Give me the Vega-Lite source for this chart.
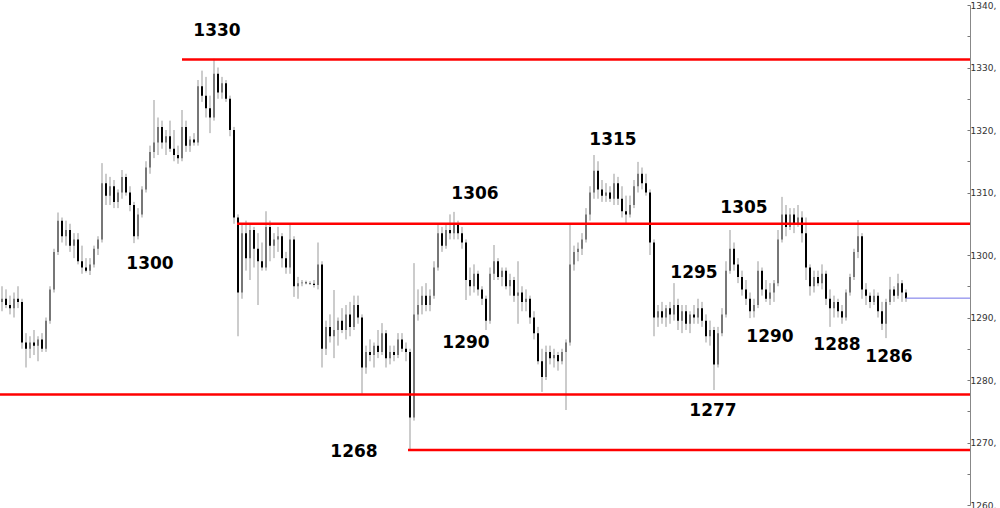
{
  "$schema": "https://vega.github.io/schema/vega-lite/v6.json",
  "width": 970,
  "height": 500,
  "autosize": "none",
  "padding": {"left": 0, "top": 5, "right": 30, "bottom": 3},
  "background": "white",
  "config": {
    "view": {"stroke": null},
    "axisY": {
      "title": null, "grid": false,
      "labelFont": "DejaVu Sans", "labelFontSize": 9, "labelColor": "#333",
      "labelAlign": "left", "labelBaseline": "middle", "labelFlush": false, "labelOverlap": false,
      "labelPadding": 3, "tickSize": -3, "tickColor": "#777", "domainColor": "#888"
    }
  },
  "datasets": {
    "bars": [
      {"i":0,"o":1292.5,"h":1295,"l":1291,"c":1293},
      {"i":1,"o":1293,"h":1294.5,"l":1291.5,"c":1292},
      {"i":2,"o":1292,"h":1293.5,"l":1290.5,"c":1291.5},
      {"i":3,"o":1291.5,"h":1294,"l":1290,"c":1293},
      {"i":4,"o":1293,"h":1295,"l":1291.5,"c":1292.5},
      {"i":5,"o":1292.5,"h":1293,"l":1285,"c":1286},
      {"i":6,"o":1286,"h":1287.5,"l":1282,"c":1285},
      {"i":7,"o":1285,"h":1287,"l":1283.5,"c":1286},
      {"i":8,"o":1286,"h":1288,"l":1284,"c":1285.5},
      {"i":9,"o":1285.5,"h":1287,"l":1283,"c":1286.5},
      {"i":10,"o":1286.5,"h":1287.5,"l":1284.5,"c":1285},
      {"i":11,"o":1285,"h":1290,"l":1284.5,"c":1289.5},
      {"i":12,"o":1289.5,"h":1295,"l":1289,"c":1294.5},
      {"i":13,"o":1294.5,"h":1301,"l":1294,"c":1300.5},
      {"i":14,"o":1300.5,"h":1306.8,"l":1300,"c":1305.5},
      {"i":15,"o":1305.5,"h":1306,"l":1302,"c":1303},
      {"i":16,"o":1303,"h":1305.5,"l":1301.5,"c":1304},
      {"i":17,"o":1304,"h":1305,"l":1300.5,"c":1301.5},
      {"i":18,"o":1301.5,"h":1303.5,"l":1299.5,"c":1302.5},
      {"i":19,"o":1302.5,"h":1303.5,"l":1298.5,"c":1299},
      {"i":20,"o":1299,"h":1301.5,"l":1297,"c":1298},
      {"i":21,"o":1298,"h":1299.5,"l":1297.2,"c":1297.5},
      {"i":22,"o":1297.5,"h":1299.5,"l":1296.8,"c":1298.5},
      {"i":23,"o":1298.5,"h":1301.5,"l":1298,"c":1301},
      {"i":24,"o":1301,"h":1303,"l":1300,"c":1302.5},
      {"i":25,"o":1302.5,"h":1314.7,"l":1302,"c":1311.5},
      {"i":26,"o":1311.5,"h":1313,"l":1308,"c":1309.5},
      {"i":27,"o":1309.5,"h":1312.5,"l":1308,"c":1311},
      {"i":28,"o":1311,"h":1312,"l":1307.5,"c":1308.5},
      {"i":29,"o":1308.5,"h":1310.5,"l":1307.5,"c":1310},
      {"i":30,"o":1310,"h":1313.6,"l":1309,"c":1312.5},
      {"i":31,"o":1312.5,"h":1313,"l":1309.5,"c":1310},
      {"i":32,"o":1310,"h":1311,"l":1307,"c":1308},
      {"i":33,"o":1308,"h":1308.5,"l":1301.9,"c":1303},
      {"i":34,"o":1303,"h":1307.5,"l":1302.5,"c":1306.5},
      {"i":35,"o":1306.5,"h":1311,"l":1306,"c":1310.5},
      {"i":36,"o":1310.5,"h":1315,"l":1310,"c":1314},
      {"i":37,"o":1314,"h":1317.5,"l":1313,"c":1316.5},
      {"i":38,"o":1316.5,"h":1324.8,"l":1315.5,"c":1318},
      {"i":39,"o":1318,"h":1322,"l":1316,"c":1320.5},
      {"i":40,"o":1320.5,"h":1321.5,"l":1317,"c":1318},
      {"i":41,"o":1318,"h":1320,"l":1316,"c":1319},
      {"i":42,"o":1319,"h":1321.5,"l":1316.5,"c":1317},
      {"i":43,"o":1317,"h":1320,"l":1315,"c":1316},
      {"i":44,"o":1316,"h":1317.5,"l":1314.6,"c":1315.5},
      {"i":45,"o":1315.5,"h":1323.2,"l":1315,"c":1320.5},
      {"i":46,"o":1320.5,"h":1321.5,"l":1316.5,"c":1317.5},
      {"i":47,"o":1317.5,"h":1319,"l":1316.5,"c":1318.5},
      {"i":48,"o":1318.5,"h":1319.5,"l":1317.5,"c":1318},
      {"i":49,"o":1318,"h":1328,"l":1317.5,"c":1327},
      {"i":50,"o":1327,"h":1329.5,"l":1324.5,"c":1325.5},
      {"i":51,"o":1325.5,"h":1328.5,"l":1322,"c":1323.5},
      {"i":52,"o":1323.5,"h":1325.5,"l":1319.5,"c":1322},
      {"i":53,"o":1322,"h":1331.4,"l":1321.5,"c":1329},
      {"i":54,"o":1329,"h":1330,"l":1325,"c":1326},
      {"i":55,"o":1326,"h":1328.5,"l":1325,"c":1327.5},
      {"i":56,"o":1327.5,"h":1328,"l":1324.5,"c":1325},
      {"i":57,"o":1325,"h":1325.5,"l":1319,"c":1320},
      {"i":58,"o":1320,"h":1320.5,"l":1305,"c":1306},
      {"i":59,"o":1306,"h":1306.5,"l":1287,"c":1294},
      {"i":60,"o":1294,"h":1305,"l":1293,"c":1303.5},
      {"i":61,"o":1303.5,"h":1305.5,"l":1297.5,"c":1299.5},
      {"i":62,"o":1299.5,"h":1305,"l":1296,"c":1304},
      {"i":63,"o":1304,"h":1304.5,"l":1298,"c":1301},
      {"i":64,"o":1301,"h":1303.5,"l":1292,"c":1299},
      {"i":65,"o":1299,"h":1302,"l":1297.5,"c":1298},
      {"i":66,"o":1298,"h":1307,"l":1297.5,"c":1304.5},
      {"i":67,"o":1304.5,"h":1305.5,"l":1299,"c":1301.5},
      {"i":68,"o":1301.5,"h":1303.5,"l":1299.5,"c":1302.5},
      {"i":69,"o":1302.5,"h":1304.5,"l":1300.5,"c":1303},
      {"i":70,"o":1303,"h":1303.5,"l":1298,"c":1299.5},
      {"i":71,"o":1299.5,"h":1300.5,"l":1297,"c":1298},
      {"i":72,"o":1298,"h":1305,"l":1297,"c":1302.5},
      {"i":73,"o":1302.5,"h":1303,"l":1293.3,"c":1295},
      {"i":74,"o":1295,"h":1296.5,"l":1293,"c":1295.5},
      {"i":75,"o":1295.5,"h":1296,"l":1295,"c":1295.6},
      {"i":76,"o":1295.6,"h":1295.9,"l":1295.3,"c":1295.5},
      {"i":77,"o":1295.5,"h":1295.8,"l":1295.2,"c":1295.4},
      {"i":78,"o":1295.4,"h":1296,"l":1294.8,"c":1295.2},
      {"i":79,"o":1295.2,"h":1302,"l":1294.5,"c":1298.5},
      {"i":80,"o":1298.5,"h":1299,"l":1282,"c":1285},
      {"i":81,"o":1285,"h":1289.5,"l":1284,"c":1288.5},
      {"i":82,"o":1288.5,"h":1290.5,"l":1286,"c":1287},
      {"i":83,"o":1287,"h":1294.4,"l":1283.5,"c":1288},
      {"i":84,"o":1288,"h":1290,"l":1285.5,"c":1289.5},
      {"i":85,"o":1289.5,"h":1291.5,"l":1287.5,"c":1288},
      {"i":86,"o":1288,"h":1292,"l":1286.5,"c":1290.5},
      {"i":87,"o":1290.5,"h":1292.5,"l":1287,"c":1288.5},
      {"i":88,"o":1288.5,"h":1293.5,"l":1288,"c":1292},
      {"i":89,"o":1292,"h":1293.5,"l":1289,"c":1290},
      {"i":90,"o":1290,"h":1290.5,"l":1277.8,"c":1282},
      {"i":91,"o":1282,"h":1285.5,"l":1281,"c":1284.5},
      {"i":92,"o":1284.5,"h":1286.5,"l":1283,"c":1284},
      {"i":93,"o":1284,"h":1286,"l":1282,"c":1285.5},
      {"i":94,"o":1285.5,"h":1288,"l":1283.5,"c":1284.5},
      {"i":95,"o":1284.5,"h":1289.1,"l":1284,"c":1287.5},
      {"i":96,"o":1287.5,"h":1288,"l":1282,"c":1283.5},
      {"i":97,"o":1283.5,"h":1285.5,"l":1282.5,"c":1284.5},
      {"i":98,"o":1284.5,"h":1285.5,"l":1283,"c":1284},
      {"i":99,"o":1284,"h":1287.5,"l":1283.5,"c":1286.5},
      {"i":100,"o":1286.5,"h":1287.5,"l":1284.5,"c":1285},
      {"i":101,"o":1285,"h":1286,"l":1283,"c":1284.5},
      {"i":102,"o":1284.5,"h":1285,"l":1268.9,"c":1274},
      {"i":103,"o":1274,"h":1298.7,"l":1273.5,"c":1290.5},
      {"i":104,"o":1290.5,"h":1294.5,"l":1289.5,"c":1292},
      {"i":105,"o":1292,"h":1295,"l":1290.5,"c":1293.5},
      {"i":106,"o":1293.5,"h":1295.5,"l":1291,"c":1292},
      {"i":107,"o":1292,"h":1294.5,"l":1291,"c":1293.5},
      {"i":108,"o":1293.5,"h":1299,"l":1293,"c":1298},
      {"i":109,"o":1298,"h":1304.8,"l":1297.5,"c":1303.5},
      {"i":110,"o":1303.5,"h":1304.5,"l":1300.5,"c":1301.5},
      {"i":111,"o":1301.5,"h":1305,"l":1301,"c":1304},
      {"i":112,"o":1304,"h":1306.5,"l":1302.5,"c":1303.5},
      {"i":113,"o":1303.5,"h":1306.9,"l":1302.5,"c":1305},
      {"i":114,"o":1305,"h":1305.5,"l":1302.5,"c":1303.5},
      {"i":115,"o":1303.5,"h":1304.5,"l":1301,"c":1302},
      {"i":116,"o":1302,"h":1302.5,"l":1292.8,"c":1296},
      {"i":117,"o":1296,"h":1298,"l":1293.5,"c":1295},
      {"i":118,"o":1295,"h":1298.5,"l":1294,"c":1297},
      {"i":119,"o":1297,"h":1297.5,"l":1293.5,"c":1294.5},
      {"i":120,"o":1294.5,"h":1295,"l":1292,"c":1293},
      {"i":121,"o":1293,"h":1293.5,"l":1288,"c":1289.5},
      {"i":122,"o":1289.5,"h":1298,"l":1289,"c":1297},
      {"i":123,"o":1297,"h":1301.6,"l":1296,"c":1299},
      {"i":124,"o":1299,"h":1299.5,"l":1296,"c":1296.5},
      {"i":125,"o":1296.5,"h":1298,"l":1295,"c":1297.5},
      {"i":126,"o":1297.5,"h":1298,"l":1294.5,"c":1295},
      {"i":127,"o":1295,"h":1297,"l":1293.5,"c":1296},
      {"i":128,"o":1296,"h":1296.5,"l":1292.5,"c":1293.5},
      {"i":129,"o":1293.5,"h":1299,"l":1289,"c":1294},
      {"i":130,"o":1294,"h":1295,"l":1291,"c":1292.5},
      {"i":131,"o":1292.5,"h":1294.5,"l":1291,"c":1293},
      {"i":132,"o":1293,"h":1293.5,"l":1289,"c":1290},
      {"i":133,"o":1290,"h":1291,"l":1286.5,"c":1287.5},
      {"i":134,"o":1287.5,"h":1288.5,"l":1282.5,"c":1283},
      {"i":135,"o":1283,"h":1285,"l":1278.1,"c":1280.5},
      {"i":136,"o":1280.5,"h":1285.5,"l":1280,"c":1284.5},
      {"i":137,"o":1284.5,"h":1285.5,"l":1282.5,"c":1283.5},
      {"i":138,"o":1283.5,"h":1285,"l":1282,"c":1284},
      {"i":139,"o":1284,"h":1284.5,"l":1281.5,"c":1283},
      {"i":140,"o":1283,"h":1285,"l":1282.5,"c":1284.5},
      {"i":141,"o":1284.5,"h":1286.5,"l":1275.2,"c":1286},
      {"i":142,"o":1286,"h":1305.1,"l":1285.5,"c":1298.5},
      {"i":143,"o":1298.5,"h":1301.5,"l":1297.5,"c":1300.5},
      {"i":144,"o":1300.5,"h":1302,"l":1299,"c":1301},
      {"i":145,"o":1301,"h":1303.5,"l":1300,"c":1302.5},
      {"i":146,"o":1302.5,"h":1307.5,"l":1302,"c":1306.5},
      {"i":147,"o":1306.5,"h":1311,"l":1305.5,"c":1310},
      {"i":148,"o":1310,"h":1316,"l":1309,"c":1313.5},
      {"i":149,"o":1313.5,"h":1315,"l":1309,"c":1310.5},
      {"i":150,"o":1310.5,"h":1312,"l":1308.5,"c":1309.5},
      {"i":151,"o":1309.5,"h":1311.5,"l":1308.5,"c":1310},
      {"i":152,"o":1310,"h":1311,"l":1308.5,"c":1309},
      {"i":153,"o":1309,"h":1313,"l":1308,"c":1311.5},
      {"i":154,"o":1311.5,"h":1312.5,"l":1308,"c":1309},
      {"i":155,"o":1309,"h":1311,"l":1306,"c":1307},
      {"i":156,"o":1307,"h":1309.5,"l":1305.1,"c":1306.5},
      {"i":157,"o":1306.5,"h":1309.5,"l":1306,"c":1308},
      {"i":158,"o":1308,"h":1312,"l":1307.5,"c":1311},
      {"i":159,"o":1311,"h":1314.9,"l":1310,"c":1313},
      {"i":160,"o":1313,"h":1314,"l":1310.5,"c":1311.5},
      {"i":161,"o":1311.5,"h":1313,"l":1309.5,"c":1310},
      {"i":162,"o":1310,"h":1310.5,"l":1300,"c":1302},
      {"i":163,"o":1302,"h":1302.5,"l":1287,"c":1290},
      {"i":164,"o":1290,"h":1292,"l":1288.5,"c":1291},
      {"i":165,"o":1291,"h":1292.5,"l":1289,"c":1290},
      {"i":166,"o":1290,"h":1292,"l":1288.5,"c":1291.5},
      {"i":167,"o":1291.5,"h":1292.5,"l":1289,"c":1290.5},
      {"i":168,"o":1290.5,"h":1295.5,"l":1289.5,"c":1292},
      {"i":169,"o":1292,"h":1293,"l":1288,"c":1289.5},
      {"i":170,"o":1289.5,"h":1292,"l":1287.5,"c":1291},
      {"i":171,"o":1291,"h":1292,"l":1288,"c":1289},
      {"i":172,"o":1289,"h":1291,"l":1287.5,"c":1290.5},
      {"i":173,"o":1290.5,"h":1292,"l":1289,"c":1290},
      {"i":174,"o":1290,"h":1293,"l":1289,"c":1291.5},
      {"i":175,"o":1291.5,"h":1292.5,"l":1288.5,"c":1289.5},
      {"i":176,"o":1289.5,"h":1290.5,"l":1286,"c":1287},
      {"i":177,"o":1287,"h":1289.5,"l":1285.5,"c":1288},
      {"i":178,"o":1288,"h":1288.5,"l":1278.4,"c":1282.5},
      {"i":179,"o":1282.5,"h":1288.5,"l":1282,"c":1287.5},
      {"i":180,"o":1287.5,"h":1291.5,"l":1287,"c":1290.5},
      {"i":181,"o":1290.5,"h":1299,"l":1290,"c":1297.5},
      {"i":182,"o":1297.5,"h":1304,"l":1297,"c":1301},
      {"i":183,"o":1301,"h":1302,"l":1297.5,"c":1298.5},
      {"i":184,"o":1298.5,"h":1299.5,"l":1295.5,"c":1296.5},
      {"i":185,"o":1296.5,"h":1297.5,"l":1293.5,"c":1294.5},
      {"i":186,"o":1294.5,"h":1296,"l":1292,"c":1293},
      {"i":187,"o":1293,"h":1294,"l":1289.9,"c":1291},
      {"i":188,"o":1291,"h":1293,"l":1290,"c":1292},
      {"i":189,"o":1292,"h":1299,"l":1291.5,"c":1297.5},
      {"i":190,"o":1297.5,"h":1298,"l":1293.5,"c":1294.5},
      {"i":191,"o":1294.5,"h":1296,"l":1292.5,"c":1293},
      {"i":192,"o":1293,"h":1295.5,"l":1292,"c":1294},
      {"i":193,"o":1294,"h":1296,"l":1292.5,"c":1295.5},
      {"i":194,"o":1295.5,"h":1304,"l":1295,"c":1302.5},
      {"i":195,"o":1302.5,"h":1309.3,"l":1302,"c":1306.5},
      {"i":196,"o":1306.5,"h":1308,"l":1303,"c":1304.5},
      {"i":197,"o":1304.5,"h":1307.5,"l":1304,"c":1306.5},
      {"i":198,"o":1306.5,"h":1307.5,"l":1303.5,"c":1305},
      {"i":199,"o":1305,"h":1308,"l":1304.5,"c":1306},
      {"i":200,"o":1306,"h":1307,"l":1302,"c":1303.5},
      {"i":201,"o":1303.5,"h":1306,"l":1296,"c":1298},
      {"i":202,"o":1298,"h":1298.5,"l":1293.5,"c":1295},
      {"i":203,"o":1295,"h":1297.5,"l":1294,"c":1296.5},
      {"i":204,"o":1296.5,"h":1297.5,"l":1295,"c":1295.5},
      {"i":205,"o":1295.5,"h":1298.5,"l":1294.5,"c":1297},
      {"i":206,"o":1297,"h":1297.5,"l":1292,"c":1293},
      {"i":207,"o":1293,"h":1294.5,"l":1288.5,"c":1291.5},
      {"i":208,"o":1291.5,"h":1293.5,"l":1290,"c":1292.5},
      {"i":209,"o":1292.5,"h":1293,"l":1290,"c":1291},
      {"i":210,"o":1291,"h":1292,"l":1289,"c":1290},
      {"i":211,"o":1290,"h":1294.5,"l":1289.5,"c":1294},
      {"i":212,"o":1294,"h":1297,"l":1293.5,"c":1296.5},
      {"i":213,"o":1296.5,"h":1301,"l":1296,"c":1300.5},
      {"i":214,"o":1300.5,"h":1305.6,"l":1299.5,"c":1303},
      {"i":215,"o":1303,"h":1303.5,"l":1293,"c":1294.5},
      {"i":216,"o":1294.5,"h":1295.5,"l":1292,"c":1293.5},
      {"i":217,"o":1293.5,"h":1294,"l":1291.5,"c":1292.5},
      {"i":218,"o":1292.5,"h":1294.5,"l":1292,"c":1293.5},
      {"i":219,"o":1293.5,"h":1294,"l":1290,"c":1291},
      {"i":220,"o":1291,"h":1292.5,"l":1288,"c":1289},
      {"i":221,"o":1289,"h":1293,"l":1286.7,"c":1292.5},
      {"i":222,"o":1292.5,"h":1296.5,"l":1292,"c":1294.5},
      {"i":223,"o":1294.5,"h":1295,"l":1292.5,"c":1293.5},
      {"i":224,"o":1293.5,"h":1297,"l":1293,"c":1295.5},
      {"i":225,"o":1295.5,"h":1296,"l":1292.5,"c":1294},
      {"i":226,"o":1294,"h":1294.5,"l":1292.5,"c":1293.1}
    ],
    "levels": [
      {"from": 45, "to": 242, "price": 1331.3},
      {"from": 58.75, "to": 242, "price": 1305},
      {"from": -0.5, "to": 242, "price": 1277.7},
      {"from": 101.5, "to": 242, "price": 1268.8}
    ],
    "last": [
      {"from": 226, "to": 242, "price": 1293.1}
    ],
    "notes": [
      {"i": 53.75, "p": 1335.8, "t": "1330"},
      {"i": 37, "p": 1298.6, "t": "1300"},
      {"i": 118.25, "p": 1309.8, "t": "1306"},
      {"i": 88, "p": 1268.5, "t": "1268"},
      {"i": 116, "p": 1285.9, "t": "1290"},
      {"i": 152.75, "p": 1318.4, "t": "1315"},
      {"i": 173, "p": 1297.1, "t": "1295"},
      {"i": 177.75, "p": 1275.0, "t": "1277"},
      {"i": 185.5, "p": 1307.5, "t": "1305"},
      {"i": 192, "p": 1286.9, "t": "1290"},
      {"i": 208.75, "p": 1285.6, "t": "1288"},
      {"i": 221.75, "p": 1283.7, "t": "1286"}
    ]
  },
  "layer": [
    {
      "data": {"name": "bars"},
      "mark": {"type": "rule", "color": "#999999", "strokeWidth": 1},
      "encoding": {
        "x": {"field": "i", "type": "quantitative", "scale": {"domain": [-0.5, 242], "nice": false, "zero": false, "padding": 0}, "axis": null},
        "y": {"field": "l", "type": "quantitative", "scale": {"domain": [1260, 1340], "nice": false, "zero": false},
          "axis": {"orient": "right", "values": [1260,1265,1270,1275,1280,1285,1290,1295,1300,1305,1310,1315,1320,1325,1330,1335,1340], "labelExpr": "datum.value % 10 == 0 ? format(datum.value, 'd') + ',' : ''"}},
        "y2": {"field": "h"}
      }
    },
    {
      "data": {"name": "bars"},
      "mark": {"type": "bar", "size": 2},
      "encoding": {
        "x": {"field": "i", "type": "quantitative", "axis": null},
        "y": {"field": "o", "type": "quantitative",
          "axis": {"orient": "right", "values": [1260,1265,1270,1275,1280,1285,1290,1295,1300,1305,1310,1315,1320,1325,1330,1335,1340], "labelExpr": "datum.value % 10 == 0 ? format(datum.value, 'd') + ',' : ''"}},
        "y2": {"field": "c"},
        "color": {"condition": {"test": "datum.c < datum.o", "value": "#000000"}, "value": "#777777"}
      }
    },
    {
      "data": {"name": "levels"},
      "mark": {"type": "rule", "color": "#ff0000", "strokeWidth": 2.5},
      "encoding": {
        "x": {"field": "from", "type": "quantitative", "axis": null},
        "x2": {"field": "to"},
        "y": {"field": "price", "type": "quantitative",
          "axis": {"orient": "right", "values": [1260,1265,1270,1275,1280,1285,1290,1295,1300,1305,1310,1315,1320,1325,1330,1335,1340], "labelExpr": "datum.value % 10 == 0 ? format(datum.value, 'd') + ',' : ''"}}
      }
    },
    {
      "data": {"name": "last"},
      "mark": {"type": "rule", "color": "#7070e8", "strokeWidth": 1},
      "encoding": {
        "x": {"field": "from", "type": "quantitative", "axis": null},
        "x2": {"field": "to"},
        "y": {"field": "price", "type": "quantitative",
          "axis": {"orient": "right", "values": [1260,1265,1270,1275,1280,1285,1290,1295,1300,1305,1310,1315,1320,1325,1330,1335,1340], "labelExpr": "datum.value % 10 == 0 ? format(datum.value, 'd') + ',' : ''"}}
      }
    },
    {
      "data": {"name": "notes"},
      "mark": {"type": "text", "font": "DejaVu Sans", "fontWeight": "bold", "fontSize": 17, "color": "#000", "align": "center", "baseline": "middle"},
      "encoding": {
        "x": {"field": "i", "type": "quantitative", "axis": null},
        "y": {"field": "p", "type": "quantitative",
          "axis": {"orient": "right", "values": [1260,1265,1270,1275,1280,1285,1290,1295,1300,1305,1310,1315,1320,1325,1330,1335,1340], "labelExpr": "datum.value % 10 == 0 ? format(datum.value, 'd') + ',' : ''"}},
        "text": {"field": "t"}
      }
    }
  ]
}
